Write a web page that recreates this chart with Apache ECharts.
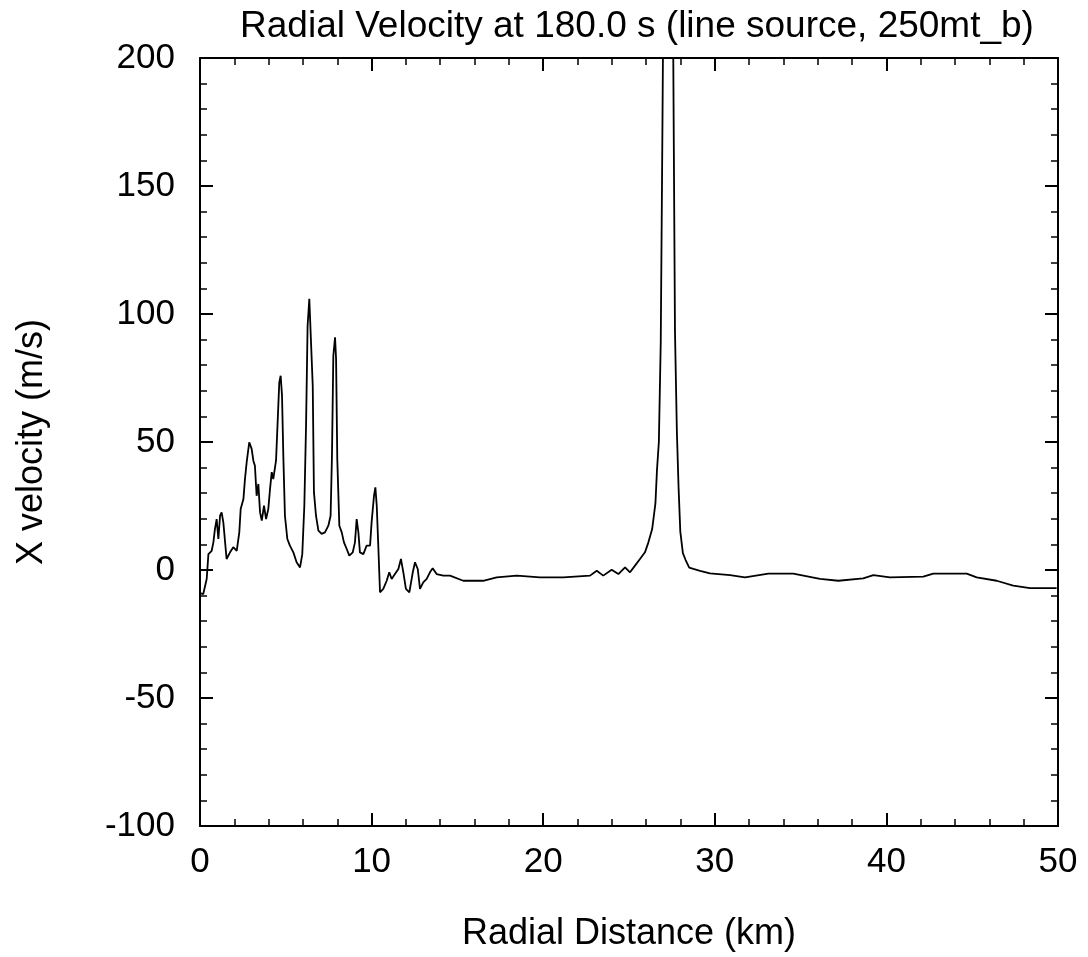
<!DOCTYPE html>
<html>
<head>
<meta charset="utf-8">
<script src="https://cdn.jsdelivr.net/npm/echarts@6/dist/echarts.min.js"></script>
<style>html,body{margin:0;padding:0;background:#fff}#c{width:1088px;height:957px}</style>
</head>
<body>
<div id="c"></div>
<script>
const titleText = 'Radial Velocity at 180.0 s (line source, 250mt_b)';
const xName = 'Radial Distance (km)';
const yName = 'X velocity (m/s)';
const xTicks = [0, 10, 20, 30, 40, 50];
const yTicks = [-100, -50, 0, 50, 100, 150, 200];

const distKm = [0, 0.19, 0.39, 0.49, 0.68, 0.78, 0.87, 0.97, 1.07, 1.17, 1.26, 1.36, 1.55, 1.75, 1.94, 2.14, 2.29, 2.37, 2.53, 2.62, 2.72, 2.87, 3.01, 3.11, 3.2, 3.3, 3.4, 3.5, 3.6, 3.73, 3.85, 3.98, 4.08, 4.18, 4.27, 4.43, 4.5, 4.62, 4.7, 4.78, 4.86, 4.95, 5.09, 5.24, 5.44, 5.63, 5.83, 5.96, 6.08, 6.18, 6.27, 6.37, 6.47, 6.57, 6.64, 6.76, 6.9, 7.09, 7.28, 7.48, 7.61, 7.69, 7.77, 7.87, 7.93, 8.0, 8.12, 8.26, 8.39, 8.55, 8.7, 8.9, 9.03, 9.13, 9.23, 9.32, 9.52, 9.71, 9.91, 10.0, 10.14, 10.22, 10.3, 10.39, 10.49, 10.68, 10.88, 11.03, 11.17, 11.36, 11.56, 11.71, 11.85, 12.0, 12.2, 12.4, 12.53, 12.69, 12.82, 13.01, 13.21, 13.4, 13.56, 13.79, 14.18, 14.57, 15.34, 16.5, 17.29, 18.46, 19.81, 21.17, 22.73, 23.12, 23.5, 23.99, 24.38, 24.77, 25.06, 25.35, 25.64, 25.93, 26.13, 26.35, 26.54, 26.63, 26.74, 26.85, 26.95, 27.06, 27.3, 27.58, 27.68, 27.79, 27.89, 27.99, 28.14, 28.3, 28.51, 28.75, 29.14, 29.72, 30.89, 31.76, 33.12, 34.57, 36.13, 37.2, 38.65, 39.24, 40.21, 42.15, 42.73, 44.68, 45.26, 46.43, 47.39, 48.37, 49.92];
const velocity = [-9, -9.4, -3.5, 6.2, 7.5, 10.8, 16, 19.9, 12.1, 21.2, 22.5, 18.6, 4.3, 6.9, 8.9, 7.5, 14.7, 23.8, 27.7, 35.5, 42.1, 49.9, 47.3, 42.7, 40.7, 29, 33.6, 22.5, 19.3, 25.1, 19.9, 23.8, 31.6, 38.2, 35.5, 42.7, 53.8, 73.3, 75.9, 68.1, 43.4, 21.2, 12.1, 9.5, 6.9, 3, 1, 6.2, 25.1, 56.4, 95.4, 105.9, 105.2, 72, 30.4, 21.2, 15.4, 14.1, 14.7, 17.3, 21.2, 44.6, 83.7, 90.9, 82.4, 43.4, 17.3, 14.7, 10.8, 8.2, 5.6, 6.9, 10.8, 19.9, 14.7, 6.9, 6.2, 9.5, 9.5, 18.6, 29, 32.3, 25.1, 9.5, -8.7, -7.4, -4.2, -0.9, -3.5, -1.6, 0.4, 4.3, -0.9, -7.4, -8.7, -0.9, 3, 0.4, -7.4, -4.8, -3.5, -0.9, 0.7, -1.6, -2.2, -2.2, -4.2, -4.2, -2.9, -2.2, -2.9, -2.9, -2.2, -0.3, -2.2, 0.1, -1.6, 1, -0.9, 1.7, 4.3, 6.9, 10.8, 16, 26, 39, 50, 89, 174, 280, 300, 200, 93, 54, 32, 15, 6.6, 3.9, 0.9, 0.4, -0.3, -1.3, -2, -2.9, -1.4, -1.4, -3.5, -4.2, -3.3, -2, -2.9, -2.6, -1.4, -1.4, -2.9, -4.2, -6.1, -7.1, -7.1];

const seriesData = distKm.map((x, i) => [x, velocity[i]]);
const FONT = '"Liberation Sans", Arial, Helvetica, sans-serif';

const baseTick = {show: true, inside: true, length: 13, lineStyle: {color: '#000', width: 2}};
const minorTick = {show: true, splitNumber: 5, length: 7, lineStyle: {color: '#000', width: 1.5}};
const axisLine = {show: true, onZero: false, lineStyle: {color: '#000', width: 2}};

const chart = echarts.init(document.getElementById('c'), null, {renderer: 'canvas'});
chart.setOption({
  animation: false,
  backgroundColor: '#fff',
  title: {
    text: titleText, left: 632, top: 3, textAlign: 'center',
    textStyle: {fontFamily: FONT, fontSize: 37, fontWeight: 'normal', color: '#000'}
  },
  grid: {left: 200, right: 30, top: 58, bottom: 131, containLabel: false},
  xAxis: [{
    type: 'value', min: xTicks[0], max: xTicks[xTicks.length - 1], interval: 10,
    position: 'bottom',
    name: xName, nameLocation: 'middle', nameGap: 90,
    nameTextStyle: {fontFamily: FONT, fontSize: 36, color: '#000'},
    axisLine: axisLine, axisTick: baseTick, minorTick: minorTick,
    axisLabel: {margin: 19, fontFamily: FONT, fontSize: 35, color: '#000'},
    splitLine: {show: false}
  }, {
    type: 'value', min: xTicks[0], max: xTicks[xTicks.length - 1], interval: 10,
    position: 'top',
    axisLine: axisLine, axisTick: baseTick, minorTick: minorTick,
    axisLabel: {show: false}, splitLine: {show: false}
  }],
  yAxis: [{
    type: 'value', min: yTicks[0], max: yTicks[yTicks.length - 1], interval: 50,
    position: 'left',
    name: yName, nameLocation: 'middle', nameGap: 150,
    nameTextStyle: {fontFamily: FONT, fontSize: 36, color: '#000'},
    axisLine: axisLine, axisTick: baseTick, minorTick: minorTick,
    axisLabel: {margin: 25, fontFamily: FONT, fontSize: 35, color: '#000'},
    splitLine: {show: false}
  }, {
    type: 'value', min: yTicks[0], max: yTicks[yTicks.length - 1], interval: 50,
    position: 'right',
    axisLine: axisLine, axisTick: baseTick, minorTick: minorTick,
    axisLabel: {show: false}, splitLine: {show: false}
  }],
  series: [{
    type: 'line', data: seriesData, xAxisIndex: 0, yAxisIndex: 0,
    showSymbol: false, symbol: 'none', clip: true,
    lineStyle: {color: '#000', width: 1.8}
  }]
});
</script>
</body>
</html>
